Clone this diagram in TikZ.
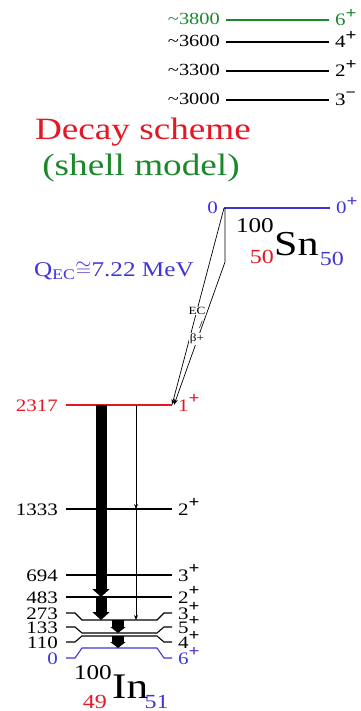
\documentclass[tikz,border=0pt]{standalone}
\usepackage{fontspec}
\setmainfont{Liberation Serif}[FakeStretch=1.2]
\usetikzlibrary{arrows.meta,positioning}
\definecolor{lvred}{RGB}{228,24,36}
\definecolor{lvblue}{RGB}{64,52,214}
\definecolor{lvgreen}{RGB}{28,136,44}
\newcommand\spinp{\raisebox{0.42em}{\fontsize{16}{16}\selectfont\textbf{+}}}
\newcommand\spinm{\raisebox{0.5em}{\fontsize{15}{15}\selectfont\textbf{\char"2212}}}

\begin{document}
\begin{tikzpicture}[x=1pt,y=-1pt,
 lab/.style={font=\fontsize{17.5}{17.5}\selectfont,inner sep=0pt},
 toplab/.style={font=\fontsize{17}{17}\selectfont,inner sep=0pt},
 lv/.style={line width=1.1pt},
 thk/.style={line width=11pt,-{Triangle[length=8pt,width=17pt]}},
 thk2/.style={line width=12pt,-{Triangle[length=6pt,width=15pt]}},
 thn/.style={line width=0.9pt,-{Stealth[length=5pt,width=4pt]}},
 ec/.style={line width=0.7pt,-{Stealth[length=6pt,width=4pt]}}]
\useasboundingbox (0,0) rectangle (360,711);

% high-lying states
\foreach \n/\y/\e/\j/\c in {a/20/3800/{6\spinp}/lvgreen,b/42/3600/{4\spinp}/black,
  c/71/3300/{2\spinp}/black,d/100/3000/{3\spinm}/black}{
 \coordinate (tw\n) at (226,\y); \coordinate (te\n) at (329,\y);
 \draw[lv,\c] (tw\n) -- (te\n);
 \node[toplab,\c,anchor=base east] at ([shift={(-6,5)}]tw\n) {\textasciitilde\e};
 \node[lab,\c,anchor=base west] at ([shift={(6,6)}]te\n) {\j};
}

\node[font=\fontsize{31}{31}\selectfont,text=lvred,anchor=base] (title) at (143,140) {Decay scheme};
\node[font=\fontsize{31}{31}\selectfont,text=lvgreen,anchor=base] (sub) at (141,176) {(shell model)};

% parent 100Sn
\coordinate (wS) at (224,208); \coordinate (eS) at (330,208);
\draw[lv,lvblue] (wS) -- (eS);
\node[lab,lvblue,anchor=base east] at ([shift={(-6,6)}]wS) {0};
\node[lab,lvblue,anchor=base west] at ([shift={(6,6)}]eS) {0\spinp};
\node[font=\fontsize{35}{35}\selectfont,anchor=base west,inner sep=0pt] (Sn) at (274,255) {Sn};
\node[font=\fontsize{21}{21}\selectfont,anchor=base east,inner sep=0pt] at ([yshift=22pt]Sn.base west) {100};
\node[font=\fontsize{20}{20}\selectfont,text=lvred,anchor=base east,inner sep=0pt] at ([yshift=-8pt]Sn.base west) {50};
\node[font=\fontsize{20}{20}\selectfont,text=lvblue,anchor=base west,inner sep=0pt] at ([shift={(1,10)}]Sn.base east) {50};

\node[font=\fontsize{21}{21}\selectfont,text=lvblue,anchor=base west,inner sep=0pt] (Q) at (34,276)
 {Q\textsubscript{EC}$\cong$7.22 MeV};

% daughter 100In
\foreach \n/\y/\e/\j/\c in {a/405/2317/{1\spinp}/lvred,b/509/1333/{2\spinp}/black,
  c/575/694/{3\spinp}/black,d/597/483/{2\spinp}/black}{
 \coordinate (w\n) at (66,\y); \coordinate (e\n) at (172,\y);
 \draw[lv,\c] (w\n) -- (e\n);
 \node[lab,\c,anchor=base east] at ([shift={(-8,6)}]w\n) {\e};
 \node[lab,\c,anchor=base west] at ([shift={(6,6)}]e\n) {\j};
}
\foreach \n/\y/\m/\e/\j/\c in {e/613/620/273/{3\spinp}/black,f/627/633/133/{5\spinp}/black,
  g/642/636/110/{4\spinp}/black,h/658/648/0/{6\spinp}/lvblue}{
 \coordinate (w\n) at (66,\y); \coordinate (e\n) at (172,\y);
 \coordinate (l\n) at (82,\m); \coordinate (r\n) at (157,\m);
 \draw[lv,\c] (w\n) -- ([xshift=9pt]w\n) -- (l\n) -- (r\n) -- ([xshift=-8pt]e\n) -- (e\n);
 \node[lab,\c,anchor=base east] at ([shift={(-8,6)}]w\n) {\e};
 \node[lab,\c,anchor=base west] at ([shift={(6,6)}]e\n) {\j};
}
\node[font=\fontsize{36}{36}\selectfont,anchor=base west,inner sep=0pt] (In) at (112,698) {In};
\node[font=\fontsize{21}{21}\selectfont,anchor=base east,inner sep=0pt] at ([yshift=19pt]In.base west) {100};
\node[font=\fontsize{20}{20}\selectfont,text=lvred,anchor=base east,inner sep=0pt] at ([shift={(-5,10)}]In.base west) {49};
\node[font=\fontsize{20}{20}\selectfont,text=lvblue,anchor=base west,inner sep=0pt] at ([shift={(-4,10)}]In.base east) {51};

% EC / beta+ feeding
\draw[ec] (wS) -- (ea);
\draw[ec] ([xshift=1pt]wS) -- ++(0,54) -- ([xshift=2pt]ea);
\node[font=\fontsize{11}{11}\selectfont,fill=white,inner sep=0.5pt] at (197,311) {EC};
\node[font=\fontsize{11}{11}\selectfont,inner sep=0pt] at (201,325) {/};
\node[font=\fontsize{11}{11}\selectfont,fill=white,inner sep=0.5pt] at (197,339) {β+};

% gamma transitions
\coordinate (gx) at (101,0); \coordinate (hx) at (118,0); \coordinate (kx) at (136,0);
\draw[thk] (gx |- wa) -- (gx |- wd);
\draw[thk] (gx |- wd) -- (gx |- le);
\draw[thk2] (hx |- le) -- (hx |- lf);
\draw[thk2] (hx |- lg) -- (hx |- lh);
\draw[thn] (kx |- wa) -- (kx |- wb);
\draw[thn] (kx |- wb) -- (kx |- le);
\end{tikzpicture}
\end{document}
